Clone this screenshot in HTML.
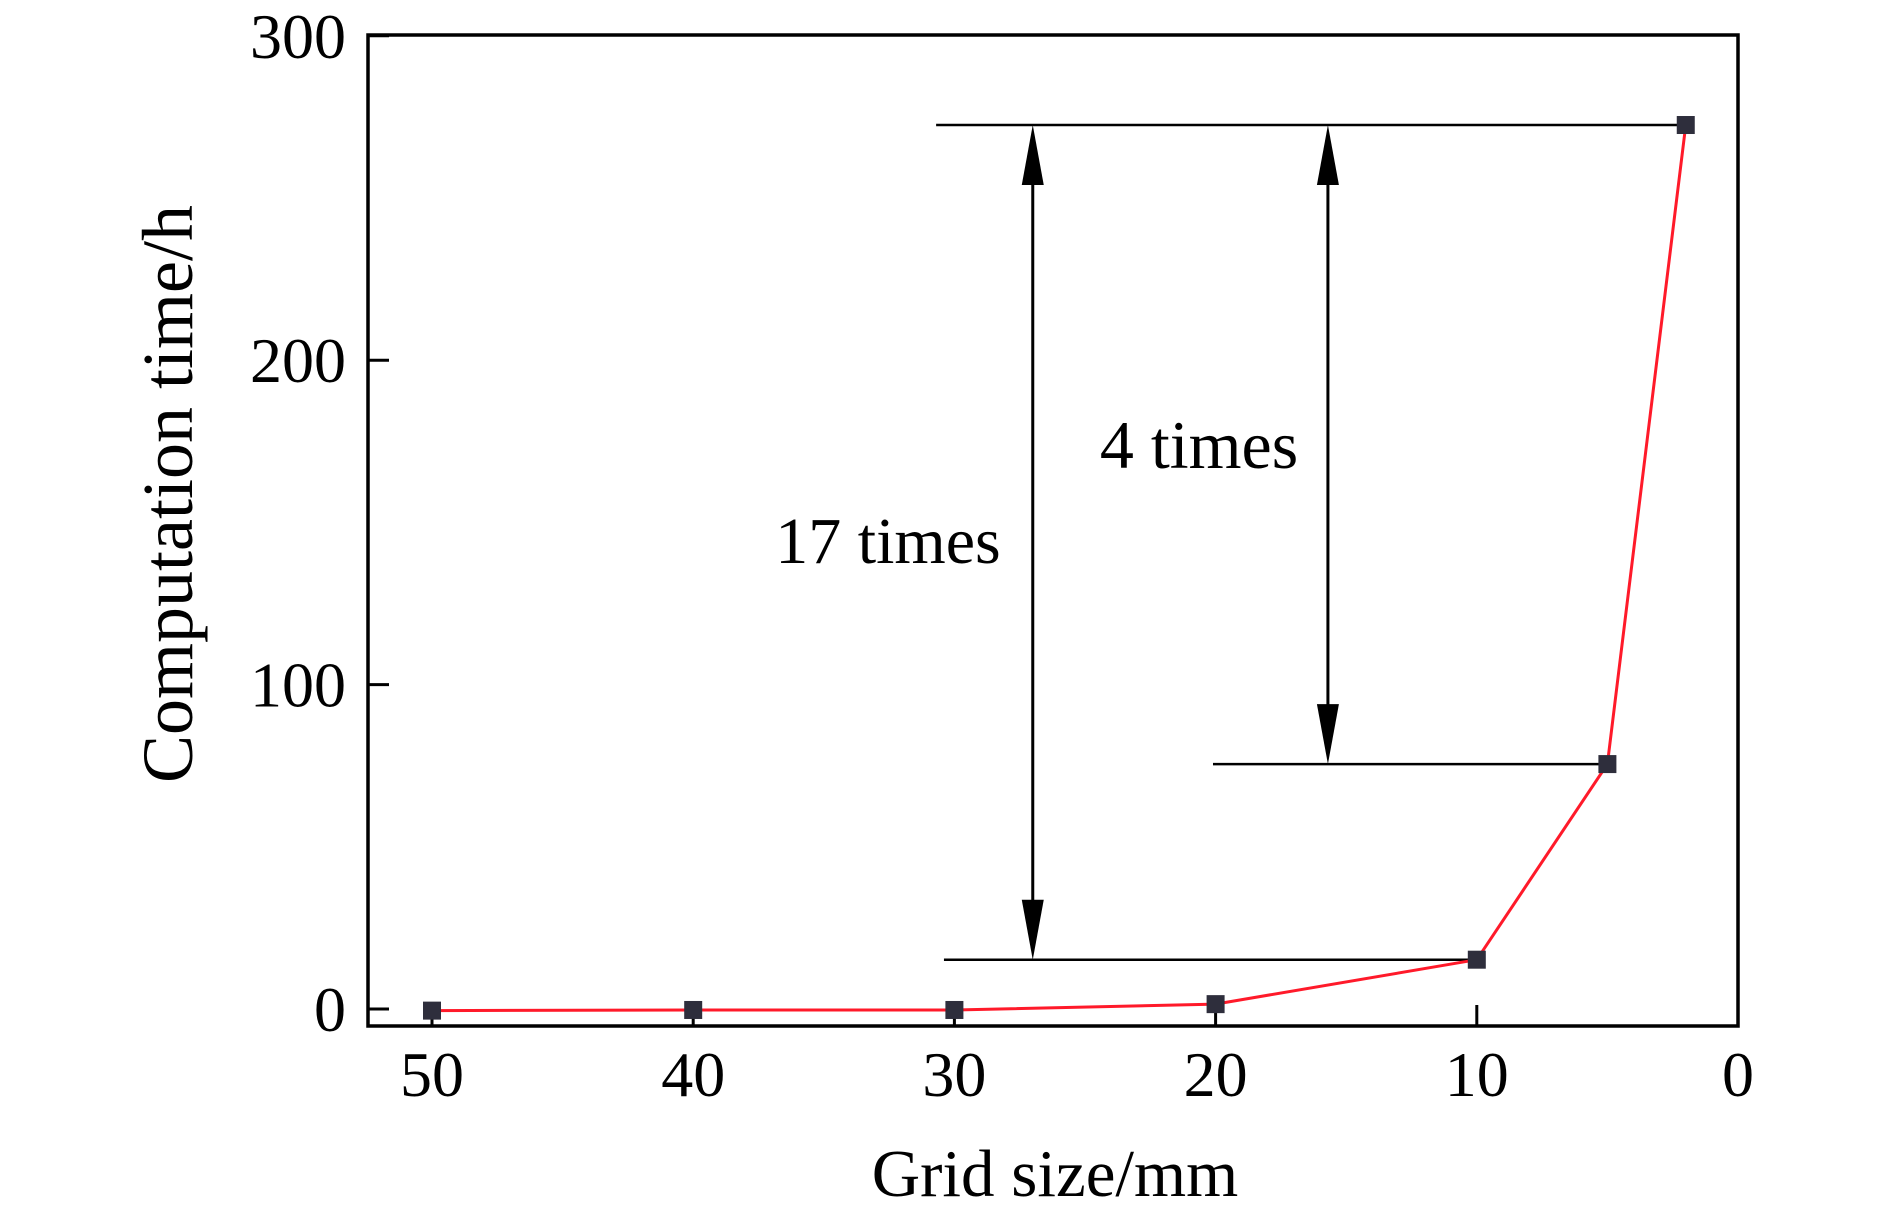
<!DOCTYPE html>
<html><head><meta charset="utf-8"><style>
html,body{margin:0;padding:0;background:#fff}
svg{display:block}
text{font-family:"Liberation Serif",serif;fill:#000}
</style></head><body>
<svg id="chart" width="1890" height="1215" viewBox="0 0 1890 1215">
<rect x="368" y="35" width="1370" height="991" fill="none" stroke="#000" stroke-width="3.5"/>
<g id="ticks"></g>
<g id="annot"></g>
<g id="series"></g>
<text x="1055" y="1196" font-size="67" text-anchor="middle">Grid size/mm</text>
<text x="0" y="0" font-size="72" text-anchor="middle" transform="translate(192,494) rotate(-90)">Computation time/h</text>
<text x="888" y="563" font-size="66" text-anchor="middle">17 times</text>
<text x="1199" y="468" font-size="68" text-anchor="middle">4 times</text>
</svg>
<script>
const gridSizes = [50, 40, 30, 20, 10, 5, 2];
const times = [-0.5, -0.3, -0.3, 1.5, 15.2, 75.5, 272.5];
const xTicks = [50, 40, 30, 20, 10, 0];
const yTicks = [0, 100, 200, 300];
const ann17 = {x: 27, lineFrom: 30.7, lineFromBottom: 30.4, top: 272.5, bottom: 15.2};
const ann4 = {x: 15.7, lineFrom: 20.1, top: 272.5, bottom: 75.5};

const NS = 'http://www.w3.org/2000/svg';
const X = v => 1738 - (v / 10) * 261.2;
const Y = v => 1009 - (v / 100) * 324.4;
function mk(tag, attrs, parent) {
  const e = document.createElementNS(NS, tag);
  for (const k in attrs) e.setAttribute(k, attrs[k]);
  parent.appendChild(e);
  return e;
}
const tg = document.getElementById('ticks');
xTicks.forEach(t => {
  const l = mk('line', {x1: X(t), x2: X(t), y1: 1026, y2: 1005, stroke: '#000', 'stroke-width': 3}, tg);
  
  
  const tx = mk('text', {x: X(t), y: 1096, 'font-size': 64, 'text-anchor': 'middle'}, tg);
  tx.textContent = t;
  
  
});
yTicks.forEach(t => {
  const l = mk('line', {x1: 368, x2: 389, y1: Y(t), y2: Y(t), stroke: '#000', 'stroke-width': 3}, tg);
  
  
  const tx = mk('text', {x: 346, y: Y(t) + 22, 'font-size': 64, 'text-anchor': 'end'}, tg);
  tx.textContent = t;
  
  
});
const ag = document.getElementById('annot');
function hline(x1, x2, y, name) {
  const l = mk('line', {x1: X(x1), x2: X(x2), y1: Y(y), y2: Y(y), stroke: '#000', 'stroke-width': 2.5}, ag);
  
  
}
function arrow(x, top, bottom, name) {
  const g = mk('g', {}, ag);
  
  
  const cx = X(x), yt = Y(top), yb = Y(bottom);
  mk('line', {x1: cx, x2: cx, y1: yt + 30, y2: yb - 30, stroke: '#000', 'stroke-width': 3}, g);
  mk('polygon', {points: `${cx},${yt} ${cx-11},${yt+60} ${cx+11},${yt+60}`, fill: '#000'}, g);
  mk('polygon', {points: `${cx},${yb} ${cx-11},${yb-60} ${cx+11},${yb-60}`, fill: '#000'}, g);
}
hline(ann17.lineFrom, gridSizes[6], ann17.top, 'reference-line-top');
hline(ann17.lineFromBottom, gridSizes[4], ann17.bottom, 'reference-line-10mm');
hline(ann4.lineFrom, gridSizes[5], ann4.bottom, 'reference-line-5mm');
arrow(ann17.x, ann17.top, ann17.bottom, 'arrow-17-times');
arrow(ann4.x, ann4.top, ann4.bottom, 'arrow-4-times');

const sg = document.getElementById('series');
const pts = gridSizes.map((g, i) => X(g) + ',' + Y(times[i])).join(' ');
const pl = mk('polyline', {points: pts, fill: 'none', stroke: '#ff1a2a', 'stroke-width': 3}, sg);


gridSizes.forEach((g, i) => {
  const r = mk('rect', {x: X(g) - 9, y: Y(times[i]) - 9, width: 18, height: 18, fill: '#2e2e3c'}, sg);
  
  
});
</script>
</body></html>
